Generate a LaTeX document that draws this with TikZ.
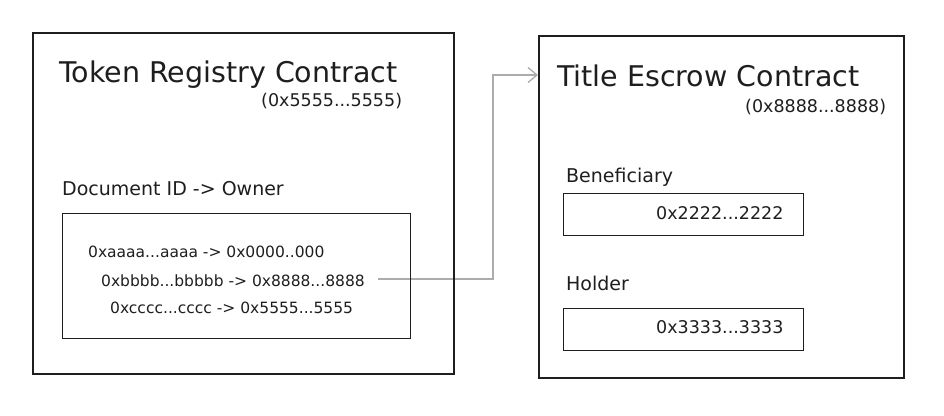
\documentclass[tikz,border=0pt]{standalone}
\usepackage{fontspec}
\setmainfont{DejaVu Sans}
\usepackage{tikz}
\usetikzlibrary{arrows.meta}
\definecolor{ink}{RGB}{30,30,30}
\definecolor{lgrey}{RGB}{172,172,172}
\pgfdeclarelayer{edgelayer}
\pgfdeclarelayer{nodelayer}
\pgfsetlayers{edgelayer,nodelayer,main}
\tikzstyle{none}=[inner sep=0pt]
\tikzstyle{contract}=[rectangle,draw=ink,line width=1.8pt,anchor=north west,inner sep=0pt]
\tikzstyle{field}=[rectangle,draw=ink,line width=1.4pt,anchor=north west,inner sep=0pt]
\tikzstyle{title}=[inner sep=0pt,anchor=base west,text=ink,font=\fontsize{28.5}{32}\selectfont]
\tikzstyle{heading}=[inner sep=0pt,anchor=base west,text=ink,font=\fontsize{19}{22}\selectfont]
\tikzstyle{addr}=[inner sep=0pt,anchor=base west,text=ink,font=\fontsize{17.5}{20}\selectfont]
\tikzstyle{pair}=[inner sep=0pt,anchor=base west,text=ink,font=\fontsize{15.5}{18}\selectfont]
\tikzstyle{linkarrow}=[-{Straight Barb[length=9pt,width=15pt]},draw=lgrey,line width=1.3pt]

\begin{document}
\begin{tikzpicture}[x=1pt,y=-1pt]
	\useasboundingbox (0,0) rectangle (944,415);
	\begin{pgfonlayer}{nodelayer}
		% token registry side
		\node [style=contract, minimum width=421pt, minimum height=341pt] (registry) at (32, 32) {};
		\node [style=title] (regname) at (59, 82) {Token Registry Contract};
		\node [style=addr] (regaddr) at (261, 106) {(0x5555...5555)};
		\node [style=heading] (ownerhead) at (62, 195) {Document ID -> Owner};
		\node [style=field, minimum width=348pt, minimum height=125pt] (owners) at (62, 213) {};
		\node [style=pair] (pairA) at (88, 257) {0xaaaa...aaaa -> 0x0000..000};
		\node [style=pair] (pairB) at (101, 286) {0xbbbb...bbbbb -> 0x8888...8888};
		\node [style=pair] (pairC) at (110, 313) {0xcccc...cccc -> 0x5555...5555};
		% title escrow side
		\node [style=contract, minimum width=365pt, minimum height=342pt] (escrow) at (538, 35) {};
		\node [style=title] (escname) at (557, 86) {Title Escrow Contract};
		\node [style=addr] (escaddr) at (745, 112) {(0x8888...8888)};
		\node [style=heading] (benehead) at (566, 182) {Beneficiary};
		\node [style=field, minimum width=240pt, minimum height=42pt] (benebox) at (563, 193) {};
		\node [style=addr] (beneval) at (656, 219) {0x2222...2222};
		\node [style=heading] (holdhead) at (566, 290) {Holder};
		\node [style=field, minimum width=240pt, minimum height=42pt] (holdbox) at (563, 308) {};
		\node [style=addr] (holdval) at (656, 333) {0x3333...3333};
		\coordinate (tail) at (378, 279);
		\coordinate (bend) at (493, 75);
	\end{pgfonlayer}
	\begin{pgfonlayer}{edgelayer}
		\draw [style=linkarrow] (tail) -| (bend) -- (escrow.west |- bend);
	\end{pgfonlayer}
\end{tikzpicture}
\end{document}
